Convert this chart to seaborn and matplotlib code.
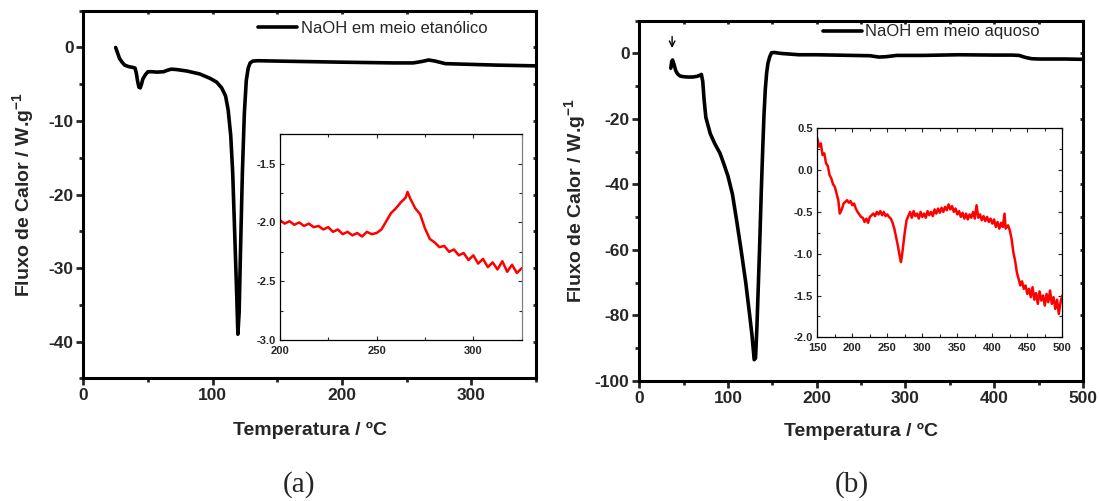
import numpy as np
import pandas as pd
import matplotlib
matplotlib.use('Agg')
import matplotlib.pyplot as plt
import seaborn as sns
from matplotlib.ticker import MultipleLocator, FormatStrFormatter

# %%
# (a) NaOH em meio etanolico - curva principal
temp_a = [25, 26, 27, 28, 30, 32, 35, 38, 40, 41, 42, 43, 44, 45, 46, 48, 50, 53, 57, 62,
          65, 68, 72, 80, 90, 98, 103, 107, 110, 112, 114, 115.5, 117, 118.5, 119.5, 120.5,
          121.5, 123, 124.5, 126, 127.5, 129, 131, 135, 150, 200, 240, 255, 262, 267, 272,
          280, 300, 320, 350]
fluxo_a = [0.0, -0.5, -1.0, -1.5, -2.0, -2.4, -2.6, -2.7, -2.8, -3.5, -4.6, -5.4, -5.5, -5.0,
           -4.3, -3.7, -3.3, -3.3, -3.35, -3.3, -3.1, -2.95, -3.0, -3.2, -3.6, -4.2, -4.7,
           -5.5, -6.6, -8.5, -12.0, -17.0, -25.0, -33.0, -39.0, -36.0, -28.0, -17.0, -9.0,
           -4.5, -2.8, -2.1, -1.85, -1.8, -1.85, -2.0, -2.1, -2.1, -1.9, -1.7, -1.85, -2.2,
           -2.3, -2.4, -2.5]

# (a) inset
temp_ai = [200, 202.5, 205, 207.5, 210, 212.5, 215, 217.5, 220, 222.5, 225, 227.5, 230, 232.5,
           235, 237.5, 240, 242.5, 245, 247.5, 250, 252.5, 255, 257.5, 260, 262.5, 265, 266,
           267.5, 270, 272.5, 275, 277.5, 280, 282.5, 285, 287.5, 290, 292.5, 295, 297.5,
           300, 302.5, 305, 307.5, 310, 312.5, 315, 317.5, 320, 322.5, 325]
fluxo_ai = [-1.98, -2.01, -1.99, -2.02, -2.00, -2.03, -2.01, -2.04, -2.03, -2.06, -2.04, -2.08,
            -2.06, -2.10, -2.08, -2.11, -2.09, -2.12, -2.08, -2.10, -2.09, -2.06, -1.99, -1.92,
            -1.88, -1.83, -1.79, -1.74, -1.80, -1.88, -1.93, -2.05, -2.14, -2.17, -2.21, -2.20,
            -2.25, -2.23, -2.28, -2.26, -2.32, -2.28, -2.35, -2.31, -2.38, -2.34, -2.40, -2.33,
            -2.42, -2.36, -2.43, -2.39]

# (b) NaOH em meio aquoso - curva principal
temp_b = [35.5, 36.5, 37.5, 39, 41, 43, 46, 50, 55, 60, 65, 68, 70, 71.5, 73, 75, 80, 85, 91,
          95, 100, 105, 110, 115, 120, 124, 127, 129.5, 131, 132.5, 134, 135.5, 137.5, 139,
          140.5, 142, 143.5, 145, 147, 149, 152, 160, 180, 200, 240, 260, 270, 278, 290, 320,
          360, 400, 420, 428, 435, 442, 450, 480, 500]
fluxo_b = [-4.5, -2.5, -2.0, -3.2, -5.2, -6.2, -6.9, -7.1, -7.2, -7.2, -7.0, -6.7, -6.4, -8.5,
           -14.0, -19.5, -24.5, -27.5, -30.5, -33.5, -37.5, -43.0, -51.5, -60.5, -70.0, -79.0,
           -86.0, -93.5, -93.0, -84.0, -72.0, -60.0, -42.0, -30.0, -19.0, -11.0, -6.0, -3.0,
           -1.0, 0.2, 0.3, 0.0, -0.4, -0.4, -0.6, -0.7, -1.1, -1.0, -0.6, -0.6, -0.4, -0.5,
           -0.5, -0.6, -1.2, -1.6, -1.7, -1.7, -1.8]

# (b) inset
temp_bi = [150, 152.5, 155, 157.5, 160, 162.5, 165, 167.5, 170, 172.5, 175, 177.5, 180, 182,
           185, 187.5, 190, 192.5, 195, 197.5, 200, 202.5, 205, 207.5, 210, 212.5, 215, 217.5,
           220, 222.5, 225, 227.5, 230, 232.5, 235, 237.5, 240, 242.5, 245, 247.5, 250, 252.5,
           255, 257.5, 260, 262.5, 265, 267.5, 269.5, 271, 273, 275, 277.5, 280, 282.5, 285,
           287.5, 290, 292.5, 295, 297.5, 300, 302.5, 305, 307.5, 310, 312.5, 315, 317.5, 320,
           322.5, 325, 327.5, 330, 332.5, 335, 337.5, 340, 342.5, 345, 347.5, 350, 352.5, 355,
           357.5, 360, 362.5, 365, 367.5, 370, 372.5, 375, 377.5, 380, 382.5, 385, 387.5, 390,
           392.5, 395, 397.5, 400, 402.5, 405, 407.5, 410, 412.5, 415, 417.5, 419, 422.5, 425,
           427.5, 430, 432.5, 435, 437.5, 440, 442.5, 445, 447.5, 450, 452.5, 455, 457.5, 460,
           462.5, 465, 467.5, 470, 472.5, 475, 477.5, 480, 482.5, 485, 487.5, 490, 492.5, 495,
           497.5, 500]
fluxo_bi = [0.38, 0.28, 0.32, 0.18, 0.20, 0.08, 0.05, -0.06, -0.10, -0.17, -0.20, -0.28, -0.36,
            -0.52, -0.47, -0.40, -0.38, -0.36, -0.39, -0.37, -0.42, -0.40, -0.46, -0.50, -0.53,
            -0.56, -0.57, -0.62, -0.58, -0.63, -0.56, -0.54, -0.52, -0.55, -0.50, -0.53, -0.49,
            -0.54, -0.50, -0.55, -0.53, -0.56, -0.58, -0.63, -0.70, -0.80, -0.90, -1.02, -1.10,
            -1.02, -0.88, -0.74, -0.60, -0.55, -0.50, -0.57, -0.49, -0.55, -0.52, -0.58, -0.50,
            -0.56, -0.52, -0.57, -0.49, -0.54, -0.50, -0.55, -0.47, -0.52, -0.46, -0.51, -0.45,
            -0.50, -0.44, -0.48, -0.41, -0.47, -0.43, -0.50, -0.46, -0.53, -0.49, -0.56, -0.51,
            -0.58, -0.52, -0.59, -0.53, -0.57, -0.50, -0.58, -0.42, -0.57, -0.53, -0.60, -0.55,
            -0.61, -0.56, -0.62, -0.58, -0.64, -0.59, -0.68, -0.62, -0.70, -0.63, -0.68, -0.52,
            -0.70, -0.66, -0.72, -0.82, -0.98, -1.08, -1.22, -1.30, -1.38, -1.33, -1.42, -1.38,
            -1.48, -1.42, -1.52, -1.40, -1.55, -1.47, -1.60, -1.45, -1.56, -1.50, -1.62, -1.48,
            -1.58, -1.44, -1.60, -1.52, -1.66, -1.55, -1.72, -1.58, -1.50]

# %%
sns.set_style('ticks')
plt.rcParams['font.family'] = ['Liberation Sans', 'DejaVu Sans']
plt.rcParams['axes.unicode_minus'] = False
plt.rcParams['font.weight'] = 'bold'
plt.rcParams['mathtext.fontset'] = 'custom'
plt.rcParams['mathtext.rm'] = 'Liberation Sans'
plt.rcParams['mathtext.bf'] = 'Liberation Sans:bold'

fig = plt.figure(figsize=(10.99, 5.01), dpi=100)


def style_main(ax):
    for s in ax.spines.values():
        s.set_linewidth(2.2)
        s.set_color('black')
    ax.tick_params(which='major', direction='out', length=5, width=2, labelsize=12.5, pad=2)
    ax.tick_params(which='minor', direction='out', length=3, width=2)
    ax.tick_params(which='both', top=False, right=False)
    # Origin-like short inner ticks on the opposite spines
    for side in ['top', 'right']:
        pass


def style_inset(ax):
    for s in ax.spines.values():
        s.set_linewidth(0.9)
        s.set_color('black')
    ax.tick_params(which='major', direction='in', length=3, width=0.8, labelsize=8,
                   top=True, right=True)
    ax.tick_params(which='minor', direction='in', length=2, width=0.8, top=True, right=True)
    ax.tick_params(which='both', labeltop=False, labelright=False)
    ax.tick_params(axis='x', pad=4)
    ax.tick_params(axis='y', pad=3)


# %%
# (a)
ax_a = fig.add_axes([0.0758, 0.2449, 0.4119, 0.7337])
sns.lineplot(x=temp_a, y=fluxo_a, ax=ax_a, color='black', linewidth=2.6, estimator=None,
             sort=False, label='NaOH em meio etanólico')
ax_a.set_xlim(0, 350)
ax_a.set_ylim(-45, 5)
ax_a.xaxis.set_major_locator(MultipleLocator(100))
ax_a.xaxis.set_minor_locator(MultipleLocator(50))
ax_a.yaxis.set_major_locator(MultipleLocator(10))
ax_a.yaxis.set_minor_locator(MultipleLocator(5))
ax_a.set_xlabel('Temperatura / ºC', fontsize=14, fontweight='bold')
ax_a.set_ylabel('Fluxo de Calor / W.g$^{\\mathbf{-1}}$', fontsize=14, fontweight='bold')
ax_a.xaxis.set_label_coords(0.5, -0.141)
ax_a.xaxis.label.set_va('center')
ax_a.yaxis.set_label_coords(-0.131, 0.5)
ax_a.yaxis.label.set_va('center')
style_main(ax_a)
ax_a.legend(loc='center left', bbox_to_anchor=(0.386, 0.952), frameon=False,
            borderpad=0, borderaxespad=0, handlelength=2.36, handletextpad=0.2,
            prop={'size': 12, 'weight': 'normal'})

ins_a = fig.add_axes([0.2546, 0.3214, 0.2201, 0.4106])
sns.lineplot(x=temp_ai, y=fluxo_ai, ax=ins_a, color='red', linewidth=1.8, estimator=None,
             sort=False)
ins_a.set_xlim(200, 325)
ins_a.set_ylim(-3.0, -1.25)
ins_a.xaxis.set_major_locator(MultipleLocator(50))
ins_a.xaxis.set_minor_locator(MultipleLocator(25))
ins_a.yaxis.set_major_locator(MultipleLocator(0.5))
ins_a.yaxis.set_minor_locator(MultipleLocator(0.25))
ins_a.yaxis.set_major_formatter(FormatStrFormatter('%.1f'))
ins_a.set_xlabel('')
ins_a.set_ylabel('')
style_inset(ins_a)
ins_a.spines['right'].set_color('0.5')

# %%
# (b)
ax_b = fig.add_axes([0.5817, 0.2395, 0.4037, 0.7192])
sns.lineplot(x=temp_b, y=fluxo_b, ax=ax_b, color='black', linewidth=2.6, estimator=None,
             sort=False, label='NaOH em meio aquoso')
ax_b.set_xlim(0, 500)
ax_b.set_ylim(-100, 10)
ax_b.xaxis.set_major_locator(MultipleLocator(100))
ax_b.xaxis.set_minor_locator(MultipleLocator(50))
ax_b.yaxis.set_major_locator(MultipleLocator(20))
ax_b.yaxis.set_minor_locator(MultipleLocator(10))
ax_b.set_xlabel('Temperatura / ºC', fontsize=14, fontweight='bold')
ax_b.set_ylabel('Fluxo de Calor / W.g$^{\\mathbf{-1}}$', fontsize=14, fontweight='bold')
ax_b.xaxis.set_label_coords(0.5, -0.141)
ax_b.xaxis.label.set_va('center')
ax_b.yaxis.set_label_coords(-0.143, 0.5)
ax_b.yaxis.label.set_va('center')
style_main(ax_b)
ax_b.legend(loc='center left', bbox_to_anchor=(0.413, 0.969), frameon=False,
            borderpad=0, borderaxespad=0, handlelength=2.36, handletextpad=0.2,
            prop={'size': 12, 'weight': 'normal'})
ax_b.annotate('', xy=(37, 0.8), xytext=(37, 6.0),
              arrowprops=dict(arrowstyle='->', color='black', lw=1))

ins_b = fig.add_axes([0.7437, 0.3267, 0.2229, 0.4172])
sns.lineplot(x=temp_bi, y=fluxo_bi, ax=ins_b, color='red', linewidth=1.8, estimator=None,
             sort=False)
ins_b.set_xlim(150, 500)
ins_b.set_ylim(-2.0, 0.5)
ins_b.xaxis.set_major_locator(MultipleLocator(50))
ins_b.xaxis.set_minor_locator(MultipleLocator(25))
ins_b.yaxis.set_major_locator(MultipleLocator(0.5))
ins_b.yaxis.set_minor_locator(MultipleLocator(0.25))
ins_b.yaxis.set_major_formatter(FormatStrFormatter('%.1f'))
ins_b.set_xlabel('')
ins_b.set_ylabel('')
style_inset(ins_b)

# short ticks on top and right spines of the main axes (Origin style)
for ax in [ax_a, ax_b]:
    sec_x = ax.secondary_xaxis('top')
    sec_x.xaxis.set_major_locator(ax.xaxis.get_major_locator())
    sec_x.xaxis.set_minor_locator(ax.xaxis.get_minor_locator())
    sec_x.tick_params(which='both', direction='in', length=2.5, width=2, labeltop=False)
    sec_x.spines['top'].set_visible(False)
    sec_y = ax.secondary_yaxis('right')
    sec_y.yaxis.set_major_locator(ax.yaxis.get_major_locator())
    sec_y.yaxis.set_minor_locator(ax.yaxis.get_minor_locator())
    sec_y.tick_params(which='both', direction='in', length=2.5, width=2, labelright=False)
    sec_y.spines['right'].set_visible(False)

# %%
fig.text(0.272, 0.032, '(a)', ha='center', va='center', fontsize=21,
         family=['Liberation Serif', 'DejaVu Serif'], fontweight='normal')
fig.text(0.775, 0.032, '(b)', ha='center', va='center', fontsize=21,
         family=['Liberation Serif', 'DejaVu Serif'], fontweight='normal')

# bold tick labels everywhere
fig.canvas.draw()
for ax in [ax_a, ins_a, ax_b, ins_b]:
    for lab in ax.get_xticklabels(which='both') + ax.get_yticklabels(which='both'):
        lab.set_fontweight('bold')

fig.savefig('out.png', dpi=100)
